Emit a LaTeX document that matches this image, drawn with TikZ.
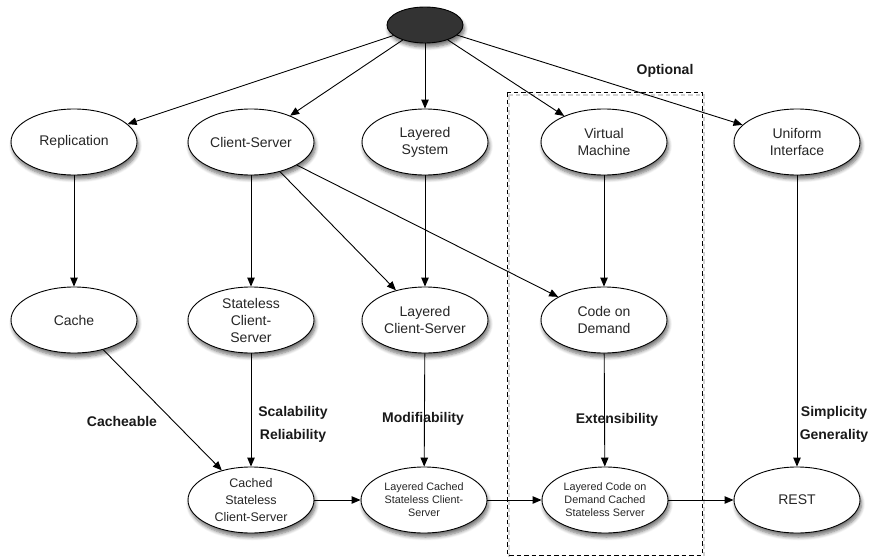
\documentclass[tikz,border=0pt]{standalone}
\usepackage{fontspec}
\setmainfont{Liberation Sans}
\usetikzlibrary{arrows.meta,shapes.geometric,shadows.blur}
\begin{document}
\begin{tikzpicture}[x=1pt,y=-1pt,
  softshadow/.style={blur shadow={shadow xshift=1.5pt, shadow yshift=-4pt,
      shadow opacity=55, shadow blur steps=6, shadow blur radius=3.5pt}},
  constraint/.style={ellipse, draw, line width=0.9pt, fill=white,
      minimum width=126pt, minimum height=66pt, inner sep=0pt, align=center,
      text=black!85, font=\fontsize{14}{17}\selectfont, softshadow},
  midsize/.style={font=\fontsize{12.5}{17}\selectfont},
  smallsize/.style={font=\fontsize{10.8}{13}\selectfont},
  prop/.style={font=\bfseries\fontsize{14}{23}\selectfont, align=center, text=black!90},
  edge/.style={draw, line width=0.9pt, -{Triangle[length=9pt,width=7.5pt]}},
  optbox/.style={draw, line width=0.9pt, dash pattern=on 4.5pt off 3pt}]
\useasboundingbox (0,0) rectangle (879,557);

% optional group frame with its faint shadow
\draw[line width=2pt, black!18, dash pattern=on 4.5pt off 3pt] (509,95) rectangle (704,558);
\draw[optbox] (507,92) rectangle (702,555);
\node[prop] (optional) at (665,71) {Optional};

% root
\node[ellipse, draw, line width=0.9pt, fill=black!80, minimum width=76pt,
      minimum height=36pt, inner sep=0pt, softshadow] (null) at (425,25) {};

% first row
\node[constraint] (rep) at (74,142) {Replication};
\node[constraint] (cs) at (251,142) {Client-Server};
\node[constraint] (ls) at (425,142) {Layered\\System};
\node[constraint] (vm) at (604,142) {Virtual\\Machine};
\node[constraint] (ui) at (797,142) {Uniform\\Interface};

% second row
\node[constraint] (cache) at (74,320) {Cache};
\node[constraint] (scs) at (251,320) {Stateless\\Client-\\Server};
\node[constraint] (lcs) at (425,320) {Layered\\Client-Server};
\node[constraint] (cod) at (604,320) {Code on\\Demand};

% third row
\node[constraint, midsize] (cscs) at (251,500) {Cached\\Stateless\\Client-Server};
\node[constraint, smallsize] (lcscs) at (424,500) {Layered Cached\\Stateless Client-\\Server};
\node[constraint, smallsize] (lcodcs) at (605,500) {Layered Code on\\Demand Cached\\Stateless Server};
\node[constraint] (rest) at (797,500) {REST};

% derivations
\draw[edge] (null) -- (rep);
\draw[edge] (null) -- (cs);
\draw[edge] (null) -- (ls);
\draw[edge] (null) -- (vm);
\draw[edge] (null) -- (ui);

\draw[edge] (rep) -- (cache);
\draw[edge] (cs) -- (scs);
\draw[edge] (cs) -- (lcs);
\draw[edge] (cs) -- (cod);
\draw[edge] (ls) -- (lcs);
\draw[edge] (vm) -- (cod);

\draw[edge] (cache) -- (cscs);
\draw[edge] (scs) -- (cscs);
\draw[edge] (lcs) -- (lcscs);
\draw[edge] (cod) -- (lcodcs);
\draw[edge] (ui) -- (rest);

\draw[edge] (cscs) -- (lcscs);
\draw[edge] (lcscs) -- (lcodcs);
\draw[edge] (lcodcs) -- (rest);

% induced properties
\node[prop] (cacheable) at (122,421) {Cacheable};
\node[prop] (scal) at (293,424) {Scalability\\Reliability};
\node[prop] (modif) at (423,419) {Modifiability};
\node[prop] (ext) at (617,420) {Extensibility};
\node[prop] (simp) at (834,424) {Simplicity\\Generality};
\end{tikzpicture}
\end{document}
